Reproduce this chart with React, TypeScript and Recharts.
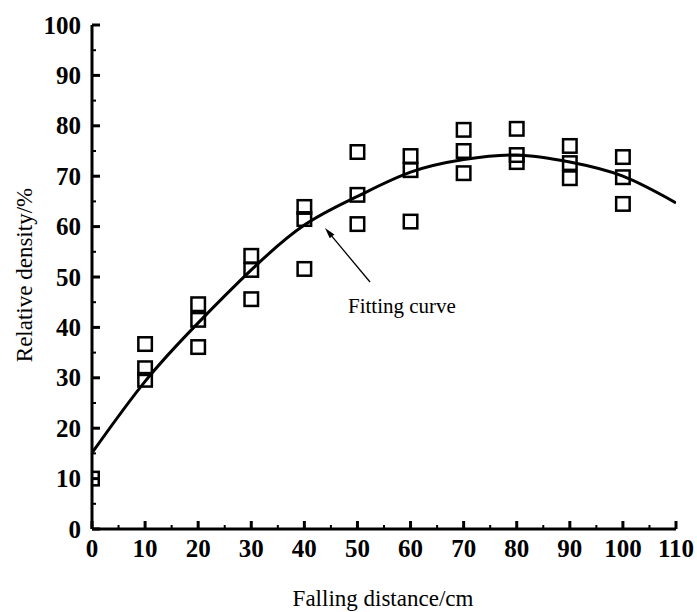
import React from 'react';
import { ComposedChart, XAxis, YAxis, Scatter, Line } from 'recharts';

// falling distance (cm) where samples were measured
const distances = [0, 10, 20, 30, 40, 50, 60, 70, 80, 90, 100];
// three repeats per distance (null = no sample)
const densityHigh = [10, 36.7, 44.6, 54.2, 63.9, 74.8, 74.0, 79.2, 79.4, 76.0, 73.8];
const densityMid = [null, 31.9, 41.5, 51.4, 61.5, 66.3, 71.2, 75.0, 74.2, 72.6, 69.8];
const densityLow = [null, 29.6, 36.1, 45.6, 51.6, 60.5, 61.0, 70.6, 72.8, 69.6, 64.5];

// fitting curve
const fitDistances = [0, 10, 20, 30, 40, 50, 60, 70, 80, 90, 100, 110];
const fitDensity = [15.1, 29.3, 40.9, 51.4, 60.3, 66.0, 70.8, 73.3, 74.2, 72.8, 70.0, 64.7];

const xTicks = [0, 5, 10, 15, 20, 25, 30, 35, 40, 45, 50, 55, 60, 65, 70, 75, 80, 85, 90, 95, 100, 105, 110];
const yTicks = [0, 5, 10, 15, 20, 25, 30, 35, 40, 45, 50, 55, 60, 65, 70, 75, 80, 85, 90, 95, 100];

const serif = '"Liberation Serif", "Times New Roman", serif';

const points: { x: number; y: number }[] = [];
[densityHigh, densityMid, densityLow].forEach(series => {
  series.forEach((v, i) => {
    if (v !== null) points.push({ x: distances[i], y: v });
  });
});

const fitData = fitDistances.map((d, i) => ({ x: d, y: fitDensity[i] }));

const XTick = (props: any) => {
  const { x, y, payload } = props;
  const major = payload.value % 10 === 0;
  return (
    <g>
      <line x1={x} x2={x} y1={y} y2={y - (major ? 8 : 4)} stroke="#000" strokeWidth={major ? 3 : 2} />
      {major && (
        <text x={x} y={y + 28} textAnchor="middle" fontFamily={serif} fontWeight="bold" fontSize={25} fill="#000">
          {payload.value}
        </text>
      )}
    </g>
  );
};

const YTick = (props: any) => {
  const { x, y, payload } = props;
  const major = payload.value % 10 === 0;
  return (
    <g>
      <line x1={x} x2={x + (major ? 8 : 4)} y1={y} y2={y} stroke="#000" strokeWidth={major ? 3 : 2} />
      {major && (
        <text x={x - 11} y={y + 8.5} textAnchor="end" fontFamily={serif} fontWeight="bold" fontSize={25} fill="#000">
          {payload.value}
        </text>
      )}
    </g>
  );
};

const Square = (props: any) => {
  const { cx, cy } = props;
  const s = 13.5;
  return <rect x={cx - s / 2} y={cy - s / 2} width={s} height={s} fill="none" stroke="#000" strokeWidth={2.5} />;
};

// arrow pointing at the fitted curve
const tip = [325, 228];
const tail = [370, 282];
const len = Math.hypot(tail[0] - tip[0], tail[1] - tip[1]);
const ux = (tail[0] - tip[0]) / len;
const uy = (tail[1] - tip[1]) / len;
const head = `${tip[0]},${tip[1]} ${tip[0] + ux * 11 - uy * 3},${tip[1] + uy * 11 + ux * 3} ${tip[0] + ux * 11 + uy * 3},${tip[1] + uy * 11 - ux * 3}`;

export default function App() {
  return (
    <div style={{ position: 'absolute', left: 0, top: 0, width: 697, height: 612, background: '#fff' }}>
      <ComposedChart width={697} height={612} margin={{ top: 25, right: 21, bottom: 43, left: 20 }}>
        <XAxis
          dataKey="x"
          type="number"
          domain={[0, 110]}
          ticks={xTicks}
          interval={0}
          allowDataOverflow
          height={40}
          tickSize={0}
          tickMargin={0}
          tickLine={false}
          tick={<XTick />}
          axisLine={{ stroke: '#000', strokeWidth: 3 }}
        />
        <YAxis
          dataKey="y"
          type="number"
          domain={[0, 100]}
          ticks={yTicks}
          interval={0}
          allowDataOverflow
          width={72}
          tickSize={0}
          tickMargin={0}
          tickLine={false}
          tick={<YTick />}
          axisLine={{ stroke: '#000', strokeWidth: 3 }}
        />
        <Scatter data={points} shape={<Square />} isAnimationActive={false} />
        <Line
          data={fitData}
          dataKey="y"
          type="natural"
          stroke="#000"
          strokeWidth={3}
          dot={false}
          activeDot={false}
          isAnimationActive={false}
        />
      </ComposedChart>
      <svg width={697} height={612} style={{ position: 'absolute', left: 0, top: 0, pointerEvents: 'none' }}>
        <line x1={tail[0]} y1={tail[1]} x2={tip[0] + ux * 8} y2={tip[1] + uy * 8} stroke="#000" strokeWidth={1.3} />
        <polygon points={head} fill="#000" />
        <text x={348} y={313} fontFamily={serif} fontSize={21} fill="#000">
          Fitting curve
        </text>
        <text x={383} y={606} textAnchor="middle" fontFamily={serif} fontSize={23} fill="#000">
          Falling distance/cm
        </text>
        <text
          x={32}
          y={275}
          transform="rotate(-90 32 275)"
          textAnchor="middle"
          fontFamily={serif}
          fontSize={23}
          fill="#000"
        >
          Relative density/%
        </text>
      </svg>
    </div>
  );
}
